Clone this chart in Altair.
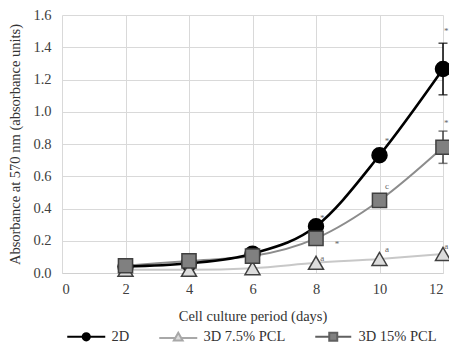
import altair as alt
import pandas as pd

days = [2, 4, 6, 8, 10, 12]
series_names = ["2D", "3D 7.5% PCL", "3D 15% PCL"]

abs_2d = [0.04, 0.06, 0.12, 0.29, 0.73, 1.265]
err_2d = [0.005, 0.01, 0.015, 0.02, 0.03, 0.16]
abs_75 = [0.02, 0.02, 0.03, 0.063, 0.087, 0.118]
err_75 = [0.003, 0.004, 0.005, 0.008, 0.01, 0.015]
abs_15 = [0.045, 0.075, 0.105, 0.215, 0.45, 0.78]
err_15 = [0.005, 0.01, 0.01, 0.02, 0.03, 0.10]

annot_x = [12.1, 10.24, 8.2, 12.1, 10.24, 8.66, 8.2, 10.24, 12.1]
annot_y = [1.50, 0.82, 0.34, 0.93, 0.54, 0.18, 0.09, 0.15, 0.17]
annot_text = ["*", "*", "*", "*", "c", "*", "a", "a", "a"]

rows = []
for name, vals, errs in [("2D", abs_2d, err_2d), ("3D 7.5% PCL", abs_75, err_75), ("3D 15% PCL", abs_15, err_15)]:
    for d, v, e in zip(days, vals, errs):
        rows.append({"day": d, "value": v, "lo": v - e, "hi": v + e, "series": name})
df = pd.DataFrame(rows)
ann = pd.DataFrame({"x": annot_x, "y": annot_y, "t": annot_text})

FONT = "Liberation Serif, Times New Roman, serif"

xs = alt.Scale(domain=[0, 12], nice=False)
ys = alt.Scale(domain=[0, 1.6], nice=False)

x_axis = alt.Axis(values=[0, 2, 4, 6, 8, 10, 12], title="Cell culture period (days)",
                  labelPadding=9, titlePadding=14, ticks=False, domain=True,
                  domainColor="#d0d0d0", labelOverlap=False)
y_axis = alt.Axis(values=[0, 0.2, 0.4, 0.6, 0.8, 1.0, 1.2, 1.4, 1.6], format=".1f",
                  title="Absorbance at 570 nm (absorbance units)", labelOverlap=False,
                  labelPadding=11, titlePadding=10, ticks=False, domain=False)

def X(field="day"):
    return alt.X(field + ":Q", scale=xs, axis=x_axis)

def Y(field="value"):
    return alt.Y(field + ":Q", scale=ys, axis=y_axis)

base = alt.Chart(df)

line_styles = {
    "3D 7.5% PCL": dict(color="#c8c8c8", strokeWidth=2),
    "3D 15% PCL": dict(color="#8c8c8c", strokeWidth=2),
    "2D": dict(color="#000000", strokeWidth=2.6),
}
point_styles = {
    "2D": dict(shape="circle", fill="#000000", stroke="#000000", size=225),
    "3D 7.5% PCL": dict(shape="triangle-up", fill="#dcdcdc", stroke="#404040", size=225),
    "3D 15% PCL": dict(shape="square", fill="#808080", stroke="#404040", size=200),
}

layers = []
for s in ["3D 7.5% PCL", "3D 15% PCL", "2D"]:
    st = line_styles[s]
    layers.append(base.transform_filter(alt.datum.series == s)
                  .mark_line(interpolate="monotone", color=st["color"], strokeWidth=st["strokeWidth"])
                  .encode(x=X(), y=Y()))

for s in ["2D", "3D 15% PCL"]:
    c = "#000000" if s == "2D" else "#404040"
    layers.append(base.transform_filter(alt.datum.series == s)
                  .mark_rule(color=c, strokeWidth=1.5)
                  .encode(x=X(), y=Y("lo"), y2="hi:Q"))
    for f in ["lo", "hi"]:
        layers.append(base.transform_filter(alt.datum.series == s)
                      .mark_tick(orient="horizontal", color=c, size=9, thickness=1.5)
                      .encode(x=X(), y=Y(f)))

for s in ["2D", "3D 7.5% PCL", "3D 15% PCL"]:
    st = point_styles[s]
    layers.append(base.transform_filter(alt.datum.series == s)
                  .mark_point(shape=st["shape"], filled=True, fill=st["fill"], stroke=st["stroke"],
                              strokeWidth=1.5, size=st["size"], opacity=1)
                  .encode(x=X(), y=Y()))

layers.append(alt.Chart(ann).mark_text(font=FONT, fontSize=9, color="#666666")
              .encode(x=X("x"), y=Y("y"), text="t:N"))

leg_paths = [
    "M-4.75,0H-0.9M0.9,0H4.75M-0.9,0A0.9,0.9,0,1,1,0.9,0A0.9,0.9,0,1,1,-0.9,0Z",
    "M-4.75,0.3H-0.75M0.75,0.3H4.75M0,-1L1.1,0.9H-1.1Z",
    "M-4.5,0H-1M1,0H4.5M-1,-1H1V1H-1Z",
]
legend = alt.Legend(title=None, orient="none", legendX=17, legendY=314, direction="horizontal",
                    symbolSize=64, symbolStrokeWidth=2, labelOffset=18, columnPadding=25,
                    labelFont=FONT, labelFontSize=14.5, labelColor="#333333")
layers.append(base.transform_filter("false")
              .mark_point(filled=True, opacity=1, size=64)
              .encode(x=X(), y=Y(),
                      shape=alt.Shape("series:N", scale=alt.Scale(domain=series_names, range=leg_paths), legend=legend),
                      fill=alt.Fill("series:N", scale=alt.Scale(domain=series_names, range=["#000000", "#dcdcdc", "#808080"]), legend=legend),
                      stroke=alt.Stroke("series:N", scale=alt.Scale(domain=series_names, range=["#000000", "#a8a8a8", "#606060"]), legend=legend)))

chart = alt.layer(*layers).properties(
    width=381, height=258,
    autosize=alt.AutoSizeParams(type="none"),
    padding={"left": 54, "top": 7, "right": 6, "bottom": 70},
).configure(font=FONT).configure_view(stroke=None).configure_axis(
    labelFont=FONT, titleFont=FONT, labelFontSize=14.5, titleFontSize=14.5,
    labelColor="#404040", titleColor="#333333", titleFontWeight="normal",
    gridColor="#d9d9d9", gridWidth=1,
)

chart.save("out.html", embed_options={"renderer": "svg", "actions": False})
